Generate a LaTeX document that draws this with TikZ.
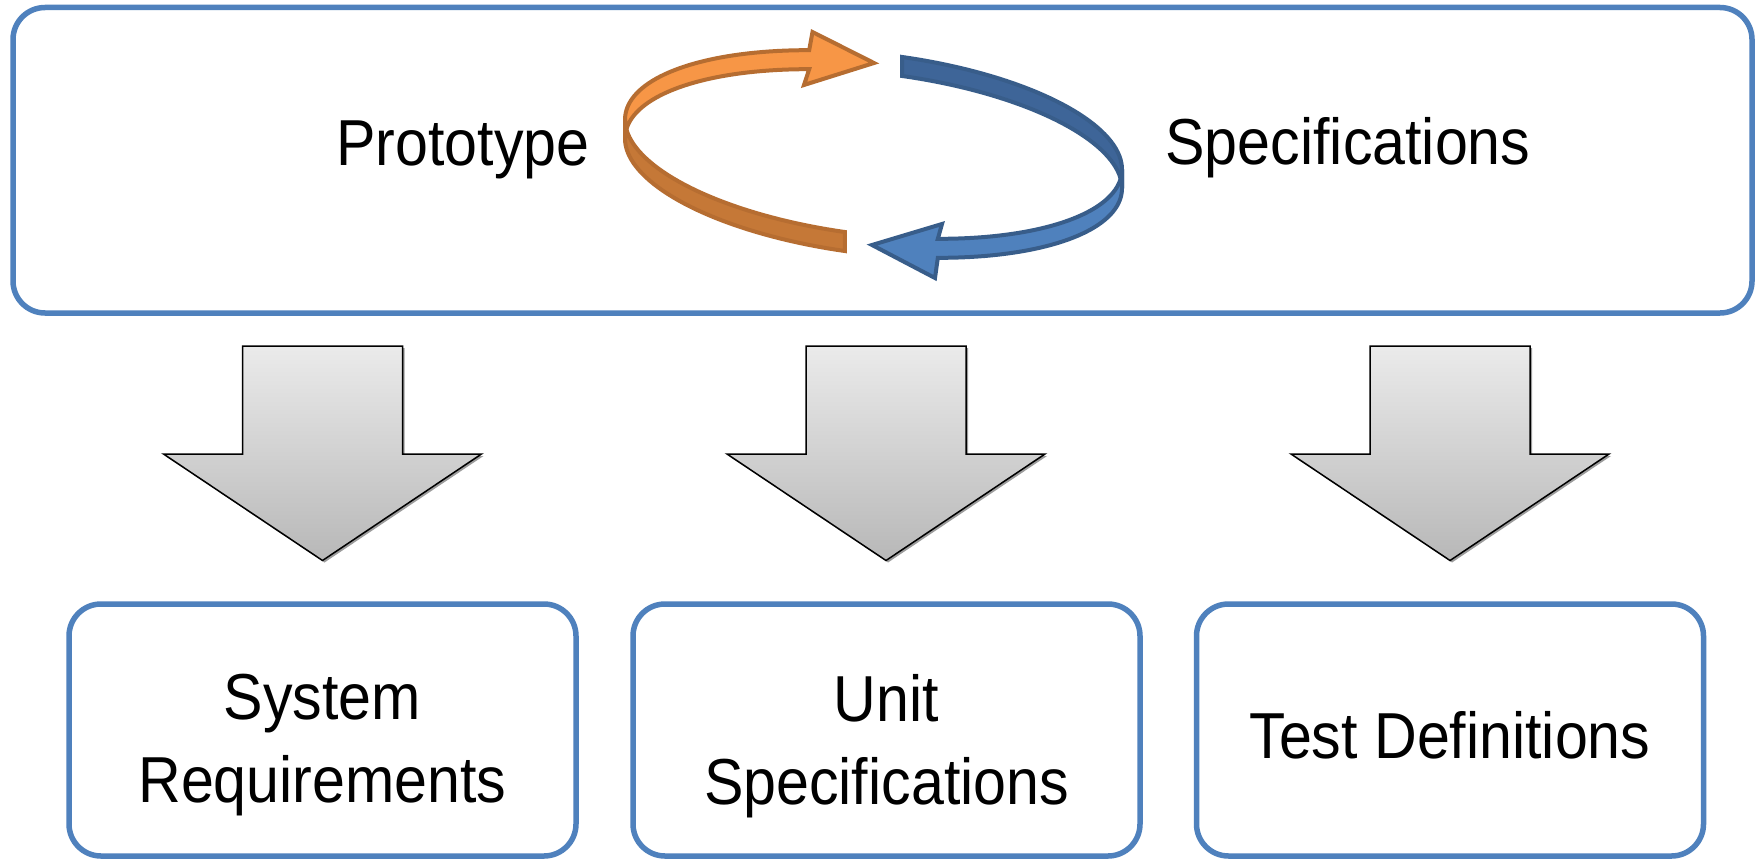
\documentclass[tikz,border=0pt]{standalone}
\usepackage{fontspec}
\setmainfont{Liberation Sans}[FakeStretch=0.91, Ligatures=CommonOff]
\usetikzlibrary{shadows}

\definecolor{frameblue}{HTML}{4F81BD}
\definecolor{orangelight}{HTML}{F79646}
\definecolor{orangedark}{HTML}{C57837}
\definecolor{orangeline}{HTML}{B66D31}
\definecolor{bluedark}{HTML}{3E6598}
\definecolor{bluelight}{HTML}{4F81BD}
\definecolor{blueline}{HTML}{385D8A}

\begin{document}
\begin{tikzpicture}[x=1pt, y=-1pt,
  declare function={ex(\t)=873.5+248.5*cos(\t); ey(\t)=154-91*sin(\t)+24.85*cos(\t);},
  frame/.style={draw=frameblue, line width=5.5pt, rounded corners=32pt, fill=white},
  lbl/.style={font=\fontsize{65}{82.5}\selectfont, align=center, inner sep=0pt, text=black},
  blockarrow/.style={draw=black, line width=1.5pt, line join=miter,
    top color=black!8, bottom color=black!28,
    drop shadow={shadow xshift=2pt, shadow yshift=-2pt, opacity=0.55, fill=black!70}},
  ribbonorange/.style={draw=orangeline, line width=4pt, line join=miter},
  ribbonblue/.style={draw=blueline, line width=4pt, line join=miter}]

  % canvas
  \useasboundingbox (0,0) rectangle (1756,859);
  \fill[white] (0,0) rectangle (1756,859);

  % upper panel
  \node[frame, minimum width=1739pt, minimum height=305.5pt] (panel) at (882.5,160.25) {};

  % lower boxes
  \node[frame, minimum width=507pt, minimum height=252pt] (sysbox)  at (322.5,730) {};
  \node[frame, minimum width=507pt, minimum height=252pt] (unitbox) at (886.5,730) {};
  \node[frame, minimum width=507pt, minimum height=252pt] (testbox) at (1450,730) {};

  % cycle: orange ribbon (back part, light, with head)
  \path[ribbonorange, fill=orangelight]
    plot[domain=180:105, samples=40] ({ex(\x)},{ey(\x)-9.5})
    -- (812.5,32) -- (874,63) -- (804,85)
    -- plot[domain=105:180, samples=40] ({ex(\x)},{ey(\x)+9.5}) -- cycle;
  % orange ribbon (front part, darker, tail)
  \path[ribbonorange, fill=orangedark]
    plot[domain=263.4:180, samples=40] ({ex(\x)},{ey(\x)-9.5})
    -- plot[domain=180:263.4, samples=40] ({ex(\x)},{ey(\x)+9.5}) -- cycle;

  % blue ribbon (back part, dark, tail)
  \path[ribbonblue, fill=bluedark]
    plot[domain=83.4:0, samples=40] ({ex(\x)},{ey(\x)-9.5})
    -- plot[domain=0:83.4, samples=40] ({ex(\x)},{ey(\x)+9.5}) -- cycle;
  % blue ribbon (front part, light, with head)
  \path[ribbonblue, fill=bluelight]
    plot[domain=0:-75, samples=40] ({ex(\x)},{ey(\x)-9.5})
    -- (942,224) -- (872,245) -- (935,278)
    -- plot[domain=-75:0, samples=40] ({ex(\x)},{ey(\x)+9.5}) -- cycle;

  % labels of the upper panel
  \node[lbl, anchor=base] (proto) at (463,165) {Prototype};
  \node[lbl, anchor=base] (spec)  at (1348,164) {Specifications};

  % block arrows from the panel to the boxes
  \foreach \cx in {322.5,886,1450}{
    \path[blockarrow]
      (\cx-80,346) -- (\cx+80,346) -- (\cx+80,454) -- (\cx+159,454)
      -- (\cx,560.5) -- (\cx-159,454) -- (\cx-80,454) -- cycle;
  }

  % labels of the lower boxes
  \node[lbl, anchor=north] (systxt) at (322.5,674) {System\\Requirements};
  \node[lbl, anchor=north] (unittxt) at (886.5,674.5) {Unit\\Specifications};
  \node[lbl, anchor=base] (testtxt) at (1450,758.3) {Test Definitions};
\end{tikzpicture}
\end{document}
